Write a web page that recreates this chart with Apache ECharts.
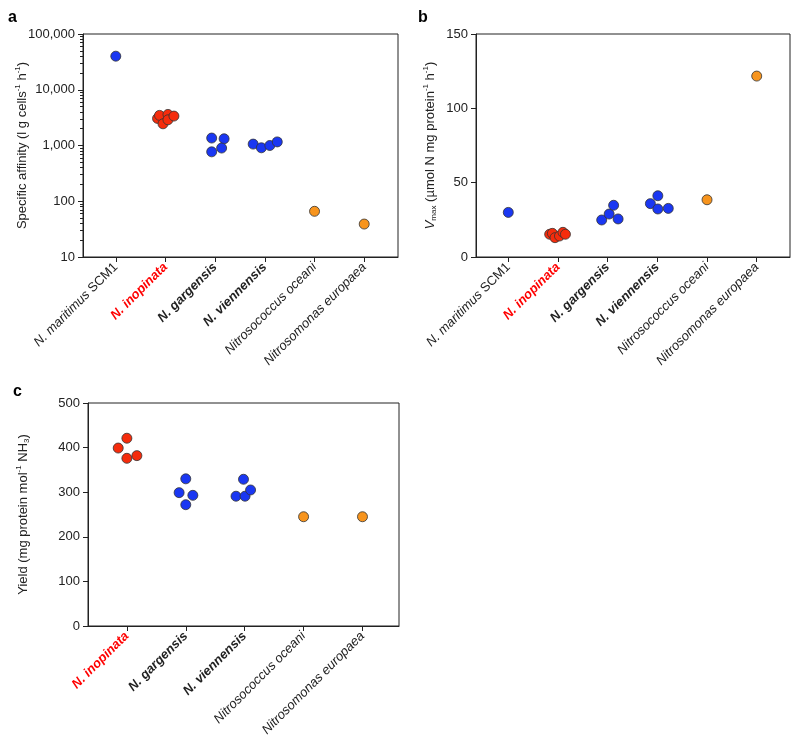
<!DOCTYPE html>
<html>
<head>
<meta charset="utf-8">
<script src="https://cdn.jsdelivr.net/npm/echarts@6/dist/echarts.min.js"></script>
<style>
  html, body { margin: 0; padding: 0; background: #fff; }
  #chart { width: 800px; height: 747px; }
</style>
</head>
<body>
<div id="chart"></div>
<script>
// species on panels a and b
const speciesAB = ['N. maritimus SCM1', 'N. inopinata', 'N. gargensis', 'N. viennensis', 'Nitrosococcus oceani', 'Nitrosomonas europaea'];
// species on panel c
const speciesC = ['N. inopinata', 'N. gargensis', 'N. viennensis', 'Nitrosococcus oceani', 'Nitrosomonas europaea'];

// a: specific affinity (l g cells-1 h-1), one list per species
const affinity = [
  [40000],
  [3060, 3470, 2450, 3610, 2890, 3370],
  [1360, 1320, 770, 900],
  [1060, 910, 1000, 1160],
  [66],
  [39]
];
// horizontal spread of the points around each category (category units)
const affinityJitter = [
  [0],
  [-0.16, -0.12, -0.05, 0.05, 0.05, 0.17],
  [-0.07, 0.18, -0.07, 0.13],
  [-0.235, -0.07, 0.1, 0.25],
  [0],
  [0]
];

// b: Vmax (umol N mg protein-1 h-1)
const vmax = [
  [30],
  [15.3, 15.9, 13.0, 14.1, 16.6, 15.3],
  [24.9, 28.9, 34.8, 25.6],
  [35.9, 41.2, 32.3, 32.7],
  [38.5],
  [121.7]
];
const vmaxJitter = [
  [0],
  [-0.167, -0.113, -0.06, 0.03, 0.1, 0.15],
  [-0.12, 0.03, 0.12, 0.21],
  [-0.14, 0.01, 0.01, 0.22],
  [0],
  [0]
];

// c: yield (mg protein mol-1 NH3)
const yieldVals = [
  [399, 421, 376, 382],
  [299, 330, 272, 293],
  [291, 329, 291, 305],
  [245],
  [245]
];
const yieldJitter = [
  [-0.147, 0, 0, 0.17],
  [-0.113, 0, 0, 0.12],
  [-0.147, -0.02, 0.006, 0.1],
  [0],
  [0]
];

const affinityTicks = [10, 100, 1000, 10000, 100000];
const affinityMinor = [];
[10, 100, 1000, 10000].forEach(function (d) {
  for (let k = 2; k <= 9; k++) affinityMinor.push(d * k);
});

const BLUE = '#1a37f2';
const RED = '#f52c0c';
const ORANGE = '#f7941d';
const colorAB = [BLUE, RED, BLUE, BLUE, ORANGE, ORANGE];
const colorC = [RED, BLUE, BLUE, ORANGE, ORANGE];

const FONT = 'Liberation Sans, Arial, sans-serif';
const INK = '#222';

// rich text version of the species names
const labelRich = {
  'N. maritimus SCM1': '{i|N. maritimus} {n|SCM1}',
  'N. inopinata': '{r|N. inopinata}',
  'N. gargensis': '{b|N. gargensis}',
  'N. viennensis': '{b|N. viennensis}',
  'Nitrosococcus oceani': '{i|Nitrosococcus oceani}',
  'Nitrosomonas europaea': '{i|Nitrosomonas europaea}'
};
const richStyles = {
  i: { fontStyle: 'italic', fontSize: 13, color: INK, fontFamily: FONT },
  n: { fontSize: 13, color: INK, fontFamily: FONT },
  r: { fontStyle: 'italic', fontWeight: 'bold', fontSize: 13, color: '#f00', fontFamily: FONT },
  b: { fontStyle: 'italic', fontWeight: 'bold', fontSize: 13, color: INK, fontFamily: FONT }
};
const nameRich = {
  sup: { fontSize: 8, verticalAlign: 'top', lineHeight: 8, color: INK, fontFamily: FONT },
  sub: { fontSize: 8, verticalAlign: 'bottom', lineHeight: 8, color: INK, fontFamily: FONT },
  it: { fontSize: 13, fontStyle: 'italic', color: INK, fontFamily: FONT }
};

function catAxis(gridIndex, names, min, max) {
  const idx = names.map(function (n, k) { return k; });
  return {
    type: 'value',
    gridIndex: gridIndex,
    min: min,
    max: max,
    splitLine: { show: false },
    axisLine: { show: true, onZero: false, lineStyle: { color: INK, width: 1 } },
    axisTick: { show: true, length: 5, customValues: idx, lineStyle: { color: INK } },
    axisLabel: {
      customValues: idx,
      rotate: 45,
      margin: 8,
      formatter: function (v) { return labelRich[names[Math.round(v)]]; },
      rich: richStyles
    }
  };
}

function valueAxis(gridIndex, extra) {
  return Object.assign({
    gridIndex: gridIndex,
    splitLine: { show: false },
    axisLine: { show: true, onZero: false, lineStyle: { color: INK, width: 1 } },
    axisTick: { show: true, length: 5, lineStyle: { color: INK } },
    axisLabel: { color: INK, fontSize: 13, fontFamily: FONT, margin: 8 },
    nameLocation: 'middle',
    nameMoveOverlap: false,
    nameTextStyle: { color: INK, fontSize: 13, fontFamily: FONT, lineHeight: 16, rich: nameRich }
  }, extra);
}

function groupSeries(vals, jit, colors, names, xi, yi) {
  return vals.map(function (list, c) {
    return {
      name: names[c],
      type: 'scatter',
      xAxisIndex: xi,
      yAxisIndex: yi,
      symbolSize: 10,
      itemStyle: { color: colors[c], borderColor: '#333', borderWidth: 0.8, opacity: 1 },
      data: list.map(function (v, k) { return [c + jit[c][k], v]; }),
      z: 3
    };
  });
}

const gridStyle = { show: true, borderColor: INK, borderWidth: 1, backgroundColor: 'transparent' };
const letterStyle = { fontSize: 16, fontWeight: 'bold', color: '#000', fontFamily: FONT };

const option = {
  animation: false,
  backgroundColor: '#fff',
  title: [
    { text: 'a', left: 8, top: 10, padding: 0, textStyle: letterStyle },
    { text: 'b', left: 418, top: 10, padding: 0, textStyle: letterStyle },
    { text: 'c', left: 13, top: 384, padding: 0, textStyle: letterStyle }
  ],
  grid: [
    Object.assign({ left: 83, right: 402, top: 34, bottom: 490 }, gridStyle),
    Object.assign({ left: 476, right: 10, top: 34, bottom: 490 }, gridStyle),
    Object.assign({ left: 88, right: 401, top: 403, bottom: 121 }, gridStyle)
  ],
  xAxis: [
    catAxis(0, speciesAB, -0.66, 5.68),
    catAxis(1, speciesAB, -0.65, 5.67),
    catAxis(2, speciesC, -0.66, 4.62)
  ],
  yAxis: [
    valueAxis(0, {
      type: 'log',
      logBase: 10,
      min: 10,
      max: 100000,
      axisTick: { show: true, length: 5, customValues: affinityTicks, lineStyle: { color: INK } },
      axisLabel: {
        color: INK, fontSize: 13, fontFamily: FONT, margin: 8,
        customValues: affinityTicks,
        formatter: function (v) { return Math.round(v).toLocaleString('en-US'); }
      },
      name: 'Specific affinity (l g cells{sup|-1} h{sup|-1})',
      nameGap: 53
    }),
    {
      type: 'log',
      logBase: 10,
      gridIndex: 0,
      min: 10,
      max: 100000,
      position: 'left',
      splitLine: { show: false },
      axisLine: { show: false, onZero: false },
      axisLabel: { show: false },
      axisTick: { show: true, length: 3, customValues: affinityMinor, lineStyle: { color: INK } }
    },
    valueAxis(1, {
      type: 'value',
      min: 0,
      max: 150,
      interval: 50,
      name: '{it|V}{sub|max} (µmol N mg protein{sup|-1} h{sup|-1})',
      nameGap: 38
    }),
    valueAxis(2, {
      type: 'value',
      min: 0,
      max: 500,
      interval: 100,
      name: 'Yield (mg protein mol{sup|-1} NH{sub|3})',
      nameGap: 57
    })
  ],
  series: []
    .concat(groupSeries(affinity, affinityJitter, colorAB, speciesAB, 0, 0))
    .concat(groupSeries(vmax, vmaxJitter, colorAB, speciesAB, 1, 2))
    .concat(groupSeries(yieldVals, yieldJitter, colorC, speciesC, 2, 3))
};

const chart = echarts.init(document.getElementById('chart'));
chart.setOption(option);
</script>
</body>
</html>
